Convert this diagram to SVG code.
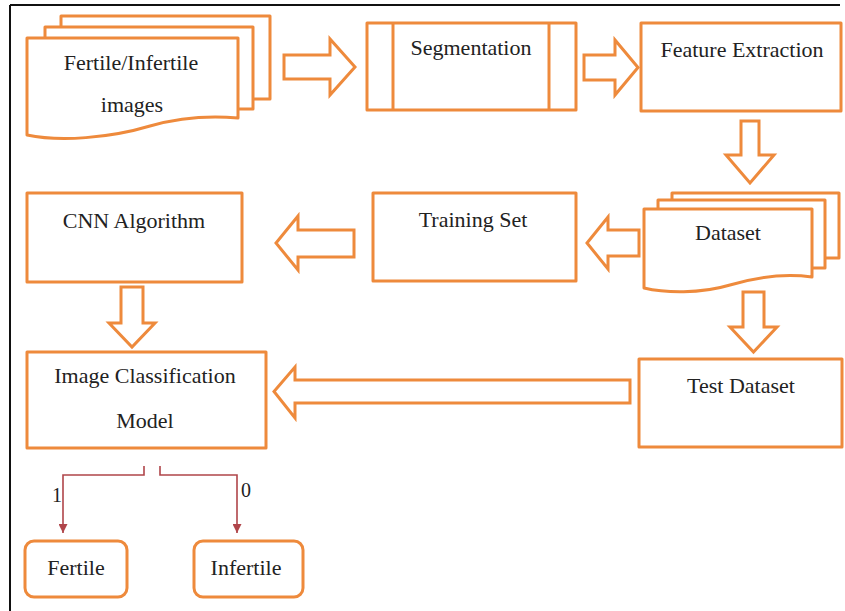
<svg xmlns="http://www.w3.org/2000/svg" width="845" height="611" viewBox="0 0 845 611">
  <style>
    .box { fill: #ffffff; stroke: #EE8A3C; stroke-width: 3; stroke-linejoin: round; }
    .blk { fill: #ffffff; stroke: #EE8A3C; stroke-width: 3; stroke-linejoin: miter; }
    text { font-family: 'Liberation Serif', 'DejaVu Serif', serif; fill: #222222; text-anchor: middle; }
    .lbl { font-size: 22px; }
    .num { font-size: 20px; }
    .wire { fill: none; stroke: #B0454A; stroke-width: 1.6; }
    .frame { stroke: #111111; stroke-width: 2; }
  </style>
  <defs>
    <marker id="tri" viewBox="0 0 10 10" refX="10" refY="5" markerWidth="9" markerHeight="9" markerUnits="userSpaceOnUse" orient="auto">
      <path d="M0,0 L10,5 L0,10 Z" fill="#B0454A"/>
    </marker>
  </defs>

  <rect x="0" y="0" width="845" height="611" fill="#ffffff"/>
  <line class="frame" x1="10" y1="5" x2="840" y2="5"/>
  <line class="frame" x1="10" y1="5" x2="10" y2="611"/>

  <!-- input images (stacked documents) -->
  <g id="images">
    <rect class="box" x="61" y="16" width="209" height="83"/>
    <rect class="box" x="45" y="27" width="208" height="82"/>
    <path class="box" d="M27,38 H238 V118 C215,116 185,116 150,126 C110,138 60,142 27,135 Z"/>
    <text class="lbl" x="131" y="70" font-family="Liberation Serif, serif">Fertile/Infertile</text>
    <text class="lbl" x="132" y="112">images</text>
  </g>

  <g id="segmentation">
    <rect class="box" x="367" y="23" width="209" height="87"/>
    <line class="box" x1="393" y1="23" x2="393" y2="110"/>
    <line class="box" x1="549" y1="23" x2="549" y2="110"/>
    <text class="lbl" x="471" y="55">Segmentation</text>
  </g>

  <g id="feature-extraction">
    <rect class="box" x="641" y="23" width="200" height="88"/>
    <text class="lbl" x="742" y="57">Feature Extraction</text>
  </g>

  <!-- dataset (stacked documents) -->
  <g id="dataset">
    <rect class="box" x="672" y="193" width="167" height="65"/>
    <rect class="box" x="658" y="200" width="167" height="68"/>
    <path class="box" d="M644,209 H812 V277 C790,274 760,276 730,285 C700,294 665,293 644,288 Z"/>
    <text class="lbl" x="728" y="240">Dataset</text>
  </g>

  <g id="training-set">
    <rect class="box" x="373" y="193" width="203" height="88"/>
    <text class="lbl" x="473" y="227">Training Set</text>
  </g>

  <g id="cnn">
    <rect class="box" x="27" y="193" width="215" height="89"/>
    <text class="lbl" x="134" y="228">CNN Algorithm</text>
  </g>

  <g id="classification-model">
    <rect class="box" x="27" y="352" width="239" height="96"/>
    <text class="lbl" x="145" y="383">Image Classification</text>
    <text class="lbl" x="145" y="428">Model</text>
  </g>

  <g id="test-dataset">
    <rect class="box" x="639" y="359" width="203" height="88"/>
    <text class="lbl" x="741" y="393">Test Dataset</text>
  </g>

  <g id="fertile">
    <rect class="box" x="25" y="541" width="102" height="56" rx="9" ry="9"/>
    <text class="lbl" x="76" y="575">Fertile</text>
  </g>

  <g id="infertile">
    <rect class="box" x="194" y="541" width="109" height="56" rx="9" ry="9"/>
    <text class="lbl" x="246" y="575">Infertile</text>
  </g>

  <g id="connectors">
    <!-- block arrows -->
    <polygon class="blk" points="284,55 330,55 330,39 355,67 330,95 330,79 284,79"/>
    <polygon class="blk" points="584,55 615,55 615,40 638,67.5 615,95 615,80 584,80"/>
    <polygon class="blk" points="741,121 759,121 759,155 774,155 750,183 726,155 741,155"/>
    <polygon class="blk" points="639,230 608,230 608,217 587,243 608,269 608,256 639,256"/>
    <polygon class="blk" points="354,230 298,230 298,216 276,243 298,270 298,257 354,257"/>
    <polygon class="blk" points="121,287 143,287 143,323 155,323 132,347 109,323 121,323"/>
    <polygon class="blk" points="743,292 764,292 764,327 777,327 753.5,352 730,327 743,327"/>
    <polygon class="blk" points="630,380 295,380 295,367 274,391.5 295,418 295,403 630,403"/>
    <!-- decision branches -->
    <path class="wire" d="M144,466 V475 H63 V533" marker-end="url(#tri)"/>
    <path class="wire" d="M160,466 V475 H237 V533" marker-end="url(#tri)"/>
    <text class="num" x="57" y="502">1</text>
    <text class="num" x="246" y="497">0</text>
  </g>
</svg>
